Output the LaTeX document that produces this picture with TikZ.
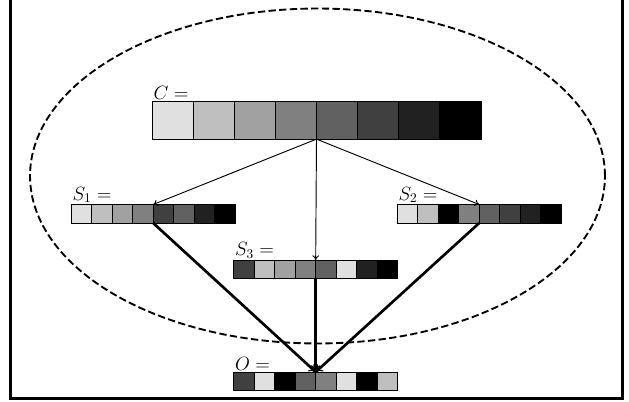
\documentclass[tikz,border=0pt]{standalone}
\usetikzlibrary{arrows.meta}
\begin{document}
\begin{tikzpicture}[x=0.75pt,y=-0.75pt,
  cell/.style={draw=black, line width=0.6pt, inner sep=0pt, outer sep=0pt, anchor=north west},
  bigcell/.style={cell, minimum width=30.84pt, minimum height=28.6pt},
  smallcell/.style={cell, minimum width=15.4pt, minimum height=13.9pt},
  lab/.style={anchor=south west, inner sep=1pt, font=\fontsize{14}{16}\selectfont},
  thinarrow/.style={-{To[length=3.5pt,width=5pt]}, line width=0.7pt},
  thickarrow/.style={-{To[length=5pt,width=7pt,line width=0.8pt]}, line width=2pt},
  frame/.style={line width=2.2pt},
  region/.style={dashed, dash pattern=on 5.5pt off 2.5pt, line width=1.4pt}]
\useasboundingbox (0,0) rectangle (629,402);
% frame (open at top)
\draw[frame] (10.5,0) -- (10.5,398.5) -- (622.5,398.5) -- (622.5,0);
% dashed region
\draw[region] (317.5,176) ellipse [x radius=215.6pt, y radius=125.6pt];
% C
\foreach \g [count=\i] in {12,25,37,50,62,75,87,100}
  \node[bigcell, fill=black!\g] (C\i) at ({152+(\i-1)*41.125},101) {};
\node[lab] (Clab) at (C1.north west) {$C=$};
% S1
\foreach \g [count=\i] in {12,25,37,50,75,62,87,100}
  \node[smallcell, fill=black!\g] (Sa\i) at ({71+(\i-1)*20.55},204.5) {};
\node[lab] (Salab) at (Sa1.north west) {$S_1=$};
% S2
\foreach \g [count=\i] in {12,25,100,50,62,75,87,100}
  \node[smallcell, fill=black!\g] (Sb\i) at ({397+(\i-1)*20.55},204.5) {};
\node[lab] (Sblab) at (Sb1.north west) {$S_2=$};
% S3
\foreach \g [count=\i] in {75,25,37,50,62,12,87,100}
  \node[smallcell, fill=black!\g] (Sc\i) at ({233.5+(\i-1)*20.55},260) {};
\node[lab] (Sclab) at (Sc1.north west) {$S_3=$};
% O
\foreach \g [count=\i] in {75,12,100,62,50,12,100,25}
  \node[smallcell, fill=black!\g] (O\i) at ({233.5+(\i-1)*20.55},372) {};
\node[lab] (Olab) at (O1.north west) {$O=$};
% arrows
\draw[thinarrow] (C4.south east) -- (Sa4.north east);
\draw[thinarrow] (C4.south east) -- (Sb4.north east);
\draw[thinarrow] (C4.south east) -- (Sc4.north east);
\draw[thickarrow] (Sa4.south east) -- (O4.north east);
\draw[thickarrow] (Sb4.south east) -- (O4.north east);
\draw[thickarrow] (Sc4.south east) -- (O4.north east);
\end{tikzpicture}
\end{document}
